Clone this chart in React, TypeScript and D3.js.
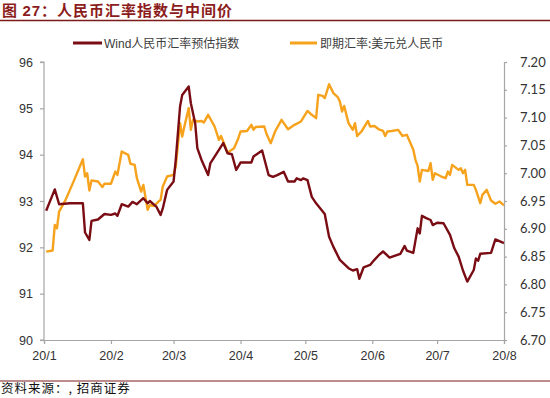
import * as d3 from "d3";
import React, { useRef, useEffect } from "react";

const WIDTH = 550;
const HEIGHT = 398;
const MARGIN = { left: 44, right: 46, top: 62, bottom: 58 };

const WIND_COLOR = "#7a0c14";
const SPOT_COLOR = "#f6a21c";

// Wind人民币汇率预估指数 (left axis)
const windDates = [
  "01-02", "01-06", "01-08", "01-13", "01-19", "01-20", "01-22", "01-23", "01-26", "01-29",
  "02-01", "02-03", "02-04", "02-06", "02-09", "02-11", "02-13", "02-16", "02-18", "02-19",
  "02-22", "02-24", "02-25", "02-27", "03-01", "03-02", "03-04", "03-05", "03-08", "03-09",
  "03-11", "03-12", "03-14", "03-17", "03-18", "03-20", "03-24", "03-26", "03-28", "03-30",
  "04-01", "04-06", "04-07", "04-11", "04-14", "04-16", "04-18", "04-21", "04-23", "04-26",
  "04-27", "04-29", "04-30", "05-02", "05-04", "05-06", "05-10", "05-12", "05-14", "05-17",
  "05-21", "05-23", "05-25", "05-26", "05-28", "05-31", "06-02", "06-04", "06-06", "06-09",
  "06-14", "06-16", "06-17", "06-20", "06-22", "06-23", "06-24", "06-26", "06-28", "06-29",
  "07-01", "07-04", "07-07", "07-09", "07-11", "07-13", "07-15", "07-18", "07-19", "07-20",
  "07-21", "07-26", "07-28", "08-01",
];
const windValues = [
  92.79, 93.25, 92.93, 92.95, 92.95, 92.32, 92.16, 92.57, 92.6, 92.72,
  92.7, 92.73, 92.68, 92.93, 92.88, 92.98, 92.93, 93.06, 92.95, 93.0,
  92.88, 92.7, 92.84, 93.24, 93.42, 93.88, 95.04, 95.29, 95.47, 95.11,
  94.68, 94.14, 93.88, 93.56, 93.81, 93.96, 94.25, 94.03, 94.01, 93.67,
  93.83, 93.83, 93.96, 94.09, 93.56, 93.52, 93.56, 93.63, 93.42, 93.42,
  93.49, 93.45, 93.49, 93.45, 93.09, 92.95, 92.72, 92.23, 92.01, 91.73,
  91.55, 91.5, 91.53, 91.32, 91.57, 91.62, 91.73, 91.83, 91.91, 91.78,
  91.86, 92.03, 91.93, 91.88, 92.41, 92.3, 92.68, 92.63, 92.59, 92.48,
  92.53, 92.52, 92.27, 91.98, 91.8, 91.5, 91.26, 91.51, 91.76, 91.71,
  91.86, 91.88, 92.17, 92.09,
];

// 即期汇率:美元兑人民币 (right axis)
const spotDates = [
  "01-02", "01-05", "01-06", "01-07", "01-08", "01-11", "01-15", "01-19", "01-20", "01-21",
  "01-22", "01-23", "01-26", "01-28", "01-29", "02-01", "02-03", "02-04", "02-06", "02-09",
  "02-10", "02-12", "02-13", "02-15", "02-16", "02-18", "02-19", "02-21", "02-23", "02-24",
  "02-25", "02-27", "03-01", "03-02", "03-04", "03-05", "03-06", "03-08", "03-09", "03-10",
  "03-12", "03-14", "03-15", "03-17", "03-20", "03-22", "03-23", "03-26", "03-29", "03-31",
  "04-01", "04-04", "04-06", "04-07", "04-08", "04-12", "04-13", "04-15", "04-17", "04-20",
  "04-23", "04-26", "04-29", "05-02", "05-04", "05-06", "05-07", "05-09", "05-10", "05-11",
  "05-12", "05-14", "05-16", "05-17", "05-18", "05-19", "05-21", "05-23", "05-24", "05-25",
  "05-27", "05-30", "05-31", "06-02", "06-04", "06-06", "06-07", "06-08", "06-10", "06-13",
  "06-15", "06-17", "06-18", "06-20", "06-21", "06-22", "06-23", "06-24", "06-27", "06-28",
  "06-29", "06-30", "07-03", "07-05", "07-06", "07-07", "07-08", "07-11", "07-12", "07-13",
  "07-14", "07-15", "07-18", "07-19", "07-21", "07-22", "07-24", "07-26", "07-28", "07-30",
  "08-01",
];
const spotValues = [
  6.859, 6.861, 6.907, 6.901, 6.931, 6.952, 6.988, 7.025, 6.994, 7.0,
  6.969, 6.987, 6.985, 6.975, 6.981, 6.981, 7.003, 6.997, 7.039, 7.033,
  7.017, 7.015, 6.991, 6.967, 6.979, 6.934, 6.943, 6.941, 6.949, 6.952,
  6.976, 6.994, 6.997, 7.012, 7.09, 7.066, 7.084, 7.117, 7.078, 7.096,
  7.093, 7.094, 7.091, 7.105, 7.084, 7.06, 7.067, 7.037, 7.045, 7.063,
  7.075, 7.076, 7.087, 7.078, 7.083, 7.084, 7.071, 7.054, 7.075, 7.096,
  7.079, 7.087, 7.093, 7.112, 7.105, 7.099, 7.141, 7.139, 7.135, 7.147,
  7.16, 7.144, 7.137, 7.129, 7.111, 7.121, 7.09, 7.078, 7.09, 7.067,
  7.075, 7.094, 7.084, 7.085, 7.079, 7.076, 7.067, 7.075, 7.076, 7.078,
  7.067, 7.069, 7.06, 7.042, 7.024, 7.013, 6.985, 7.006, 7.004, 7.018,
  6.988, 7.0, 6.994, 6.991, 7.003, 6.997, 7.015, 7.006, 7.009, 7.0,
  7.006, 6.979, 6.979, 6.97, 6.946, 6.961, 6.97, 6.951, 6.945, 6.949,
  6.942,
];

const leftTicks = [90, 91, 92, 93, 94, 95, 96];
const rightTicks = [6.7, 6.75, 6.8, 6.85, 6.9, 6.95, 7.0, 7.05, 7.1, 7.15, 7.2];
const monthTicks = ["01-01", "02-01", "03-01", "04-01", "05-01", "06-01", "07-01", "08-01"];
const monthLabels = ["20/1", "20/2", "20/3", "20/4", "20/5", "20/6", "20/7", "20/8"];

const parse = d3.timeParse("%Y-%m-%d");
const toDate = (s: string) => parse("2020-" + s) as Date;

export default function App() {
  const axesRef = useRef<SVGGElement>(null);
  const boundsWidth = WIDTH - MARGIN.left - MARGIN.right;
  const boundsHeight = HEIGHT - MARGIN.top - MARGIN.bottom;

  const xScale = d3
    .scaleTime()
    .domain([toDate("01-01"), toDate("08-01")])
    .range([0, boundsWidth]);
  const yLeft = d3.scaleLinear().domain([90, 96]).range([boundsHeight, 0]);
  const yRight = d3.scaleLinear().domain([6.7, 7.2]).range([boundsHeight, 0]);

  const windLine = d3
    .line<number>()
    .x((_, i) => xScale(toDate(windDates[i])))
    .y((d) => yLeft(d));
  const spotLine = d3
    .line<number>()
    .x((_, i) => xScale(toDate(spotDates[i])))
    .y((d) => yRight(d));

  useEffect(() => {
    const g = d3.select(axesRef.current);
    g.selectAll("*").remove();

    const left = g
      .append("g")
      .call(d3.axisLeft(yLeft).tickValues(leftTicks).tickSize(4).tickPadding(7).tickFormat(d3.format("d")));
    const right = g
      .append("g")
      .attr("transform", `translate(${boundsWidth},0)`)
      .call(d3.axisRight(yRight).tickValues(rightTicks).tickSize(3).tickPadding(13).tickFormat(d3.format(".2f")));
    const bottom = g
      .append("g")
      .attr("transform", `translate(0,${boundsHeight})`)
      .call(
        d3
          .axisBottom(xScale)
          .tickValues(monthTicks.map(toDate))
          .tickSize(4)
          .tickPadding(7)
          .tickFormat((_, i) => monthLabels[i])
      );

    [left, right, bottom].forEach((a) => {
      a.select(".domain").attr("stroke", "#a6a6a6").attr("stroke-width", 1.2);
      a.selectAll(".tick line").attr("stroke", "#a6a6a6").attr("stroke-width", 1.2);
      a.selectAll(".tick text")
        .attr("fill", "#333")
        .style("font-size", "12.5px")
        .style("font-family", "Liberation Sans, Arial, sans-serif");
    });
    right.selectAll(".tick text").style("font-family", "Lato, sans-serif").style("font-size", "13px");
    left.select(".domain").attr("d", `M-4,${boundsHeight}H0V0H-4`);
  }, []);

  const cjk = "'Noto Sans CJK SC', sans-serif";

  return (
    <div style={{ position: "absolute", left: 0, top: 0 }}>
      <svg width={WIDTH} height={HEIGHT} style={{ display: "block", background: "#fff" }}>
        <text x={2} y={16} fill="#8c1c1c" letterSpacing={1} style={{ fontFamily: cjk, fontSize: 15, fontWeight: 600 }}>
          图 <tspan style={{ fontFamily: "Liberation Sans, Arial, sans-serif", fontWeight: 700 }}>27</tspan>：人民币汇率指数与中间价
        </text>
        <line x1={0} x2={WIDTH} y1={20.5} y2={20.5} stroke="#7d1a1a" strokeWidth={1.5} />

        <g transform="translate(0,43)">
          <line x1={73} x2={102} y1={0} y2={0} stroke={WIND_COLOR} strokeWidth={3} />
          <text x={104} y={4.5} fill="#404040" style={{ fontFamily: cjk, fontSize: 12 }}>
            <tspan style={{ fontFamily: "Liberation Sans, Arial, sans-serif" }}>Wind</tspan>人民币汇率预估指数
          </text>
          <line x1={290} x2={317} y1={0} y2={0} stroke={SPOT_COLOR} strokeWidth={3} />
          <text x={320} y={4.5} fill="#404040" style={{ fontFamily: cjk, fontSize: 12 }}>
            即期汇率:美元兑人民币
          </text>
        </g>

        <g transform={`translate(${MARGIN.left},${MARGIN.top})`}>
          <path d={spotLine(spotValues) ?? ""} fill="none" stroke={SPOT_COLOR} strokeWidth={2.4} strokeLinejoin="round" />
          <path d={windLine(windValues) ?? ""} fill="none" stroke={WIND_COLOR} strokeWidth={2.4} strokeLinejoin="round" />
        </g>
        <g ref={axesRef} transform={`translate(${MARGIN.left},${MARGIN.top})`} />

        <line x1={0} x2={WIDTH} y1={381} y2={381} stroke="#7d1a1a" strokeWidth={1.2} />
        <text x={1} y={393} fill="#111" letterSpacing={1} style={{ fontFamily: "'Noto Sans CJK SC', serif", fontSize: 12.5 }}>
          资料来源：, 招商证券
        </text>
      </svg>
    </div>
  );
}
